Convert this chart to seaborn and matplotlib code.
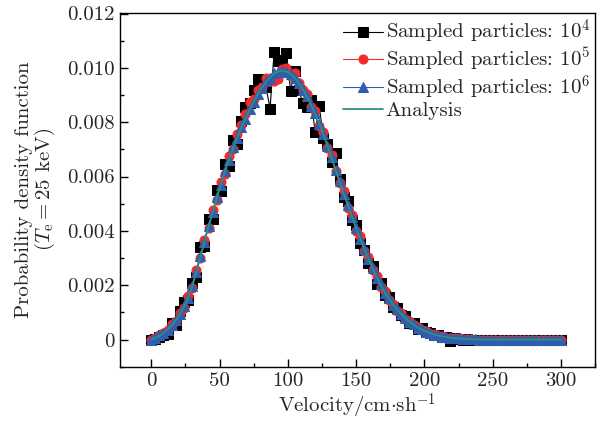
import numpy as np
import matplotlib
matplotlib.use("Agg")
import matplotlib.pyplot as plt
from matplotlib.ticker import MultipleLocator
import seaborn as sns

# velocity grid of the sampled histograms and of the analytic curve
v_sample = np.arange(0, 301, 3)
v_curve = np.arange(0, 301, 5)

# PDF values, in units of 1e-3
pdf_1e4 = [0.00, 0.02, 0.10, 0.18, 0.22, 0.60, 0.55, 1.05, 1.40, 1.45,
           2.10, 2.30, 3.40, 3.45, 4.45, 4.45, 5.50, 5.45, 6.45, 6.40,
           7.35, 7.20, 8.05, 8.55, 8.70, 9.20, 9.60, 9.55, 9.30, 8.50,
           10.60, 10.25, 10.30, 10.55, 9.15, 9.90, 9.20, 8.70, 8.55, 8.80,
           7.65, 8.60, 7.40, 7.20, 6.55, 6.85, 5.90, 5.25, 5.10, 4.40,
           4.20, 3.55, 3.30, 2.80, 2.70, 2.05, 2.10, 1.65, 1.55, 1.20,
           1.15, 0.90, 0.85, 0.62, 0.60, 0.40, 0.42, 0.28, 0.25, 0.15,
           0.18, 0.10, 0.08, -0.05, 0.05, 0.02, 0.00, 0.02, 0.00, 0.00,
           0.00, 0.00, 0.00, 0.00, 0.00, 0.00, 0.00, 0.00, 0.00, 0.00,
           0.00, 0.00, 0.00, 0.00, 0.00, 0.00, 0.00, 0.00, 0.00, 0.00,
           0.00]
pdf_1e5 = [0.00, 0.04, 0.16, 0.26, 0.35, 0.58, 0.70, 0.98, 1.18, 1.62,
           1.90, 2.55, 3.00, 3.68, 4.10, 4.78, 5.15, 5.80, 6.10, 6.75,
           7.00, 7.55, 7.90, 8.30, 8.75, 8.85, 9.20, 9.30, 9.62, 9.55,
           9.50, 9.60, 9.95, 10.00, 9.70, 9.80, 9.45, 9.20, 9.05, 8.55,
           8.40, 7.85, 7.65, 7.05, 6.80, 6.20, 5.75, 5.45, 4.85, 4.60,
           4.00, 3.80, 3.25, 3.05, 2.55, 2.35, 1.95, 1.80, 1.45, 1.32,
           1.05, 0.98, 0.76, 0.69, 0.52, 0.47, 0.34, 0.31, 0.22, 0.20,
           0.13, 0.12, 0.07, 0.07, 0.04, 0.04, 0.02, 0.02, 0.01, 0.00,
           0.00, 0.00, 0.00, 0.00, 0.00, 0.00, 0.00, 0.00, 0.00, 0.00,
           0.00, 0.00, 0.00, 0.00, 0.00, 0.00, 0.00, 0.00, 0.00, 0.00,
           0.00]
pdf_1e6 = [0.00, 0.05, 0.15, 0.24, 0.37, 0.54, 0.71, 0.95, 1.22, 1.54,
           1.97, 2.47, 3.06, 3.59, 4.18, 4.68, 5.23, 5.69, 6.21, 6.61,
           7.07, 7.42, 7.83, 8.12, 8.47, 8.73, 9.04, 9.25, 9.50, 9.63,
           9.82, 9.84, 9.90, 9.85, 9.78, 9.63, 9.46, 9.19, 8.96, 8.61,
           8.32, 7.92, 7.58, 7.12, 6.72, 6.23, 5.82, 5.34, 4.96, 4.50,
           4.12, 3.69, 3.35, 2.95, 2.65, 2.28, 2.03, 1.72, 1.52, 1.27,
           1.11, 0.93, 0.81, 0.65, 0.56, 0.44, 0.38, 0.29, 0.25, 0.18,
           0.16, 0.11, 0.10, 0.06, 0.05, 0.04, 0.03, 0.02, 0.01, 0.01,
           0.00, 0.00, 0.00, 0.00, 0.00, 0.00, 0.00, 0.00, 0.00, 0.00,
           0.00, 0.00, 0.00, 0.00, 0.00, 0.00, 0.00, 0.00, 0.00, 0.00,
           0.00]
pdf_analysis = [0.00, 0.10, 0.28, 0.52, 0.85, 1.30, 1.95, 2.85, 3.80, 4.70,
                5.55, 6.35, 7.05, 7.70, 8.25, 8.75, 9.20, 9.55, 9.80, 9.90,
                9.85, 9.65, 9.30, 8.85, 8.30, 7.70, 7.00, 6.25, 5.50, 4.80,
                4.10, 3.45, 2.85, 2.30, 1.82, 1.42, 1.10, 0.84, 0.62, 0.45,
                0.32, 0.22, 0.15, 0.10, 0.06, 0.04, 0.02, 0.01, 0.00, 0.00,
                0.00, 0.00, 0.00, 0.00, 0.00, 0.00, 0.00, 0.00, 0.00, 0.00,
                0.00]

labels = ["Sampled particles: $10^4$", "Sampled particles: $10^5$",
          "Sampled particles: $10^6$"]
yticks = [0, 0.002, 0.004, 0.006, 0.008, 0.010, 0.012]
ytick_labels = ["0", "0.002", "0.004", "0.006", "0.008", "0.010", "0.012"]
xticks = [0, 50, 100, 150, 200, 250, 300]

sns.set_style("ticks")
plt.rcParams["font.family"] = "serif"
plt.rcParams["font.serif"] = ["cmr10"]
plt.rcParams["mathtext.fontset"] = "cm"
plt.rcParams["axes.unicode_minus"] = False

fig, ax = plt.subplots(figsize=(6.08, 4.23), dpi=100)
fig.subplots_adjust(left=0.197, right=0.979, top=0.970, bottom=0.133)

styles = [("black", "s"), ("#f52a2a", "o"), ("#2d5fae", "^")]
for vals, (c, m), lab in zip([pdf_1e4, pdf_1e5, pdf_1e6], styles, labels):
    sns.lineplot(x=v_sample, y=np.array(vals) * 1e-3, ax=ax, color=c,
                 marker=m, markersize=6.5, markeredgecolor=c, linewidth=0.8,
                 label=lab)

sns.lineplot(x=v_curve, y=np.array(pdf_analysis) * 1e-3, ax=ax,
             color="#2f8f7f", linewidth=1.3, label="Analysis")

ax.set_xlim(-23, 325)
ax.set_ylim(-0.001, 0.01203)
ax.set_xticks(xticks)
ax.set_yticks(yticks)
ax.set_yticklabels(ytick_labels)
ax.xaxis.set_minor_locator(MultipleLocator(25))
ax.yaxis.set_minor_locator(MultipleLocator(0.001))
ax.tick_params(which="both", direction="in", top=False, right=False,
               labelsize=15, width=1, color="black")
ax.tick_params(which="major", length=6)
ax.tick_params(which="minor", length=3)
for s in ax.spines.values():
    s.set_color("black")
    s.set_linewidth(1.0)

ax.set_xlabel(r"Velocity/cm$\cdot$sh$^{-1}$", fontsize=15, labelpad=2)
ax.set_ylabel("Probability density function\n($T_{\\rm e} = 25$ keV)",
              fontsize=15, linespacing=1.0, labelpad=7)

ax.legend(loc="upper right", frameon=False, fontsize=15, labelspacing=0.0,
          handlelength=1.9, handletextpad=0.15, borderaxespad=0.1,
          borderpad=0.15)

plt.savefig("out.png")
